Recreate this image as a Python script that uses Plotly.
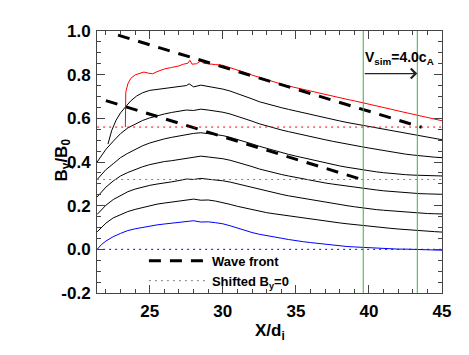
import plotly.graph_objects as go

# common x grid (X/d_i) for the curves that start at the left edge
x_grid = [21.4, 21.7, 22.0, 22.5, 23.0, 23.5, 24.0, 24.5, 25.0, 25.5, 26.0, 26.5,
          27.0, 27.5, 28.0, 28.5, 29.0, 29.5, 30.0, 30.5, 31.0, 31.5, 32.0, 32.5,
          33.0, 33.5, 34.0, 34.5, 35.0, 35.5, 36.0, 36.5, 37.0, 37.5, 38.0, 38.5,
          39.0, 39.5, 40.0, 40.5, 41.0, 41.5, 42.0, 42.5, 43.0, 43.5, 44.0, 44.5, 45.0]

# B_y/B_0 profiles, each shifted up by 0.08 from the one before
by_t0 = [0.000, 0.022, 0.038, 0.058, 0.073, 0.086, 0.094, 0.101, 0.108, 0.112, 0.116, 0.119,
         0.122, 0.127, 0.131, 0.125, 0.126, 0.122, 0.117, 0.108, 0.097, 0.088, 0.077, 0.069,
         0.062, 0.056, 0.051, 0.045, 0.039, 0.035, 0.031, 0.027, 0.022, 0.019, 0.016, 0.013,
         0.011, 0.009, 0.007, 0.005, 0.003, 0.002, 0.001, 0.001, 0.000, 0.000, -0.001, -0.002, -0.004]
by_t1 = [0.080, 0.102, 0.120, 0.144, 0.160, 0.173, 0.183, 0.192, 0.199, 0.207, 0.212, 0.216,
         0.222, 0.226, 0.230, 0.225, 0.226, 0.221, 0.215, 0.206, 0.197, 0.189, 0.181, 0.174,
         0.168, 0.163, 0.158, 0.154, 0.149, 0.144, 0.139, 0.135, 0.130, 0.126, 0.121, 0.117,
         0.113, 0.110, 0.106, 0.102, 0.099, 0.096, 0.093, 0.090, 0.088, 0.086, 0.083, 0.081, 0.079]
by_t2 = [0.160, 0.183, 0.202, 0.228, 0.248, 0.264, 0.276, 0.286, 0.293, 0.299, 0.303, 0.309,
         0.315, 0.322, 0.320, 0.325, 0.321, 0.319, 0.314, 0.308, 0.300, 0.292, 0.282, 0.273,
         0.266, 0.259, 0.252, 0.245, 0.239, 0.233, 0.227, 0.221, 0.215, 0.210, 0.205, 0.200,
         0.195, 0.190, 0.186, 0.182, 0.179, 0.176, 0.173, 0.170, 0.168, 0.166, 0.164, 0.163, 0.162]
by_t3 = [0.240, 0.263, 0.285, 0.313, 0.336, 0.352, 0.366, 0.378, 0.388, 0.396, 0.402, 0.406,
         0.412, 0.418, 0.424, 0.427, 0.423, 0.420, 0.415, 0.408, 0.399, 0.390, 0.379, 0.368,
         0.359, 0.351, 0.343, 0.336, 0.329, 0.322, 0.316, 0.310, 0.304, 0.299, 0.294, 0.289,
         0.285, 0.280, 0.276, 0.272, 0.268, 0.265, 0.262, 0.259, 0.257, 0.255, 0.254, 0.253, 0.252]
by_t4 = [0.320, 0.345, 0.365, 0.392, 0.420, 0.440, 0.458, 0.474, 0.487, 0.498, 0.506, 0.513,
         0.520, 0.527, 0.531, 0.534, 0.530, 0.527, 0.521, 0.513, 0.504, 0.494, 0.483, 0.472,
         0.462, 0.452, 0.443, 0.435, 0.427, 0.419, 0.411, 0.403, 0.396, 0.389, 0.382, 0.376,
         0.370, 0.364, 0.359, 0.355, 0.351, 0.347, 0.344, 0.342, 0.340, 0.339, 0.338, 0.337, 0.336]
by_t5 = [0.400, 0.430, 0.458, 0.495, 0.530, 0.556, 0.574, 0.590, 0.602, 0.612, 0.620, 0.627,
         0.633, 0.638, 0.636, 0.642, 0.638, 0.634, 0.628, 0.620, 0.610, 0.599, 0.587, 0.575,
         0.565, 0.556, 0.547, 0.539, 0.531, 0.523, 0.516, 0.509, 0.502, 0.495, 0.488, 0.482,
         0.476, 0.470, 0.464, 0.458, 0.452, 0.446, 0.441, 0.436, 0.432, 0.428, 0.425, 0.422, 0.420]

x_t6 = [22.14, 22.4, 22.7, 23.0, 23.4, 23.7, 24.1, 24.5, 25.0, 25.5, 26.0, 26.5, 27.0, 27.5,
        27.7, 28.0, 28.5, 29.0, 29.5, 30.0, 30.5, 31.0, 31.5, 32.0, 32.5, 33.0, 33.5, 34.0,
        34.5, 35.0, 35.5, 36.0, 36.5, 37.0, 37.5, 38.0, 38.5, 39.0, 39.5, 40.0, 40.5, 41.0,
        41.5, 42.0, 42.5, 43.0, 43.5, 44.0, 44.5, 45.0]
by_t6 = [0.482, 0.545, 0.592, 0.625, 0.657, 0.680, 0.702, 0.717, 0.728, 0.733, 0.737, 0.741,
         0.745, 0.750, 0.758, 0.744, 0.752, 0.746, 0.742, 0.734, 0.725, 0.714, 0.702, 0.689,
         0.676, 0.666, 0.657, 0.649, 0.641, 0.633, 0.625, 0.617, 0.609, 0.602, 0.595, 0.588,
         0.581, 0.575, 0.568, 0.562, 0.556, 0.550, 0.544, 0.538, 0.533, 0.528, 0.522, 0.515,
         0.508, 0.502]

x_t7 = [23.33, 23.36, 23.5, 23.7, 24.0, 24.3, 24.6, 24.9, 25.2, 25.5, 26.0, 26.5, 27.0, 27.3,
        27.6, 27.75, 27.9, 28.2, 28.5, 28.7, 29.0, 29.5, 30.0, 30.5, 31.0, 31.5, 32.0, 32.5,
        33.0, 33.5, 34.0, 34.5, 35.0, 35.5, 36.0, 36.5, 37.0, 37.5, 38.0, 38.5, 39.0, 39.5,
        40.0, 40.5, 41.0, 41.5, 42.0, 42.5, 43.0, 43.5, 44.0, 44.5, 45.0]
by_t7 = [0.560, 0.720, 0.758, 0.783, 0.799, 0.807, 0.812, 0.807, 0.804, 0.814, 0.826, 0.833,
         0.840, 0.848, 0.852, 0.866, 0.848, 0.850, 0.864, 0.852, 0.851, 0.846, 0.843, 0.833,
         0.822, 0.810, 0.798, 0.787, 0.776, 0.766, 0.757, 0.748, 0.740, 0.732, 0.724, 0.716,
         0.708, 0.701, 0.694, 0.687, 0.680, 0.673, 0.666, 0.658, 0.650, 0.642, 0.634, 0.627,
         0.620, 0.612, 0.604, 0.596, 0.589]

# wave front guides
front1_x = [22.83, 43.61]
front1_y = [0.981, 0.559]
front2_x = [22.0, 39.84]
front2_y = [0.681, 0.313]

# shifted zero levels
shift_levels = [0.0, 0.32, 0.56]
shift_colors = ["blue", "gray", "red"]

# simulation frame positions
v_lines = [39.61, 43.31]
arrow_y = 0.805

y_ticks = [-0.2, 0.0, 0.2, 0.4, 0.6, 0.8, 1.0]
y_ticktext = ["-0.2", "0.0", "0.2", "0.4", "0.6", "0.8", "1.0"]
x_ticks = [25, 30, 35, 40, 45]

bold = dict(family="Liberation Sans", color="black", weight="bold")

fig = go.Figure()

grid_curves = [(by_t0, "blue"), (by_t1, "black"), (by_t2, "black"),
               (by_t3, "black"), (by_t4, "black"), (by_t5, "black")]
for vals, col in grid_curves:
    fig.add_trace(go.Scatter(x=x_grid, y=vals, mode="lines",
                             line=dict(color=col, width=1), showlegend=False))
fig.add_trace(go.Scatter(x=x_t6, y=by_t6, mode="lines",
                         line=dict(color="black", width=1), showlegend=False))
fig.add_trace(go.Scatter(x=x_t7, y=by_t7, mode="lines",
                         line=dict(color="red", width=1), showlegend=False))

fig.add_trace(go.Scatter(x=front1_x, y=front1_y, mode="lines",
                         line=dict(color="black", width=3, dash="12px,9px"),
                         name="Wave front"))
fig.add_trace(go.Scatter(x=front2_x, y=front2_y, mode="lines",
                         line=dict(color="black", width=3, dash="12px,9px"),
                         showlegend=False))

for lvl, col in zip(shift_levels, shift_colors):
    fig.add_trace(go.Scatter(x=[x_grid[0], x_grid[-1]], y=[lvl, lvl], mode="lines",
                             line=dict(color=col, width=1, dash="2px,4px"),
                             name="Shifted B<sub>y</sub>=0",
                             showlegend=(col == "gray")))

for xv in v_lines:
    fig.add_vline(x=xv, line=dict(color="#3fae3f", width=1))

fig.add_annotation(x=v_lines[1], y=arrow_y, ax=v_lines[0], ay=arrow_y,
                   xref="x", yref="y", axref="x", ayref="y", text="",
                   showarrow=True, arrowhead=4, arrowsize=1.6, arrowwidth=1.2,
                   arrowcolor="#222")
fig.add_annotation(x=v_lines[0], y=0.875, xref="x", yref="y", xanchor="left",
                   text="V<sub>sim</sub>=4.0c<sub>A</sub>", showarrow=False,
                   font=dict(size=14, **bold))

# axis titles
fig.add_annotation(x=-0.136, y=0.506, xref="paper", yref="paper", textangle=-90,
                   text="B<sub>y</sub>/B<sub>0</sub>", showarrow=False,
                   font=dict(size=17, **bold))
fig.add_annotation(x=0.5, y=-0.147, xref="paper", yref="paper", yanchor="middle",
                   text="X/d<sub>i</sub>", showarrow=False,
                   font=dict(size=17, **bold))

axis_col = "#444"
fig.update_xaxes(range=[21.39, 45], tickvals=x_ticks, ticks="inside", ticklen=8,
                 tickcolor=axis_col, showline=True, linecolor=axis_col, mirror="allticks",
                 minor=dict(dtick=1, ticks="inside", ticklen=4, tickcolor=axis_col),
                 showgrid=False, zeroline=False, ticklabelstandoff=3,
                 tickfont=dict(size=17, **bold))
fig.update_yaxes(range=[-0.2, 1.0], tickvals=y_ticks, ticktext=y_ticktext, ticks="inside",
                 ticklen=8, tickcolor=axis_col, showline=True, linecolor=axis_col,
                 mirror="allticks",
                 minor=dict(dtick=0.05, ticks="inside", ticklen=4, tickcolor=axis_col),
                 showgrid=False, zeroline=False, ticklabelstandoff=2,
                 tickfont=dict(size=17, **bold))

# the page body adds an 8px offset, so margins are reduced to keep the plot box in place
fig.update_layout(
    width=469, height=355,
    margin=dict(l=89, r=35, t=23, b=70),
    plot_bgcolor="white", paper_bgcolor="white",
    legend=dict(x=0.136, y=0.18, xanchor="left", yanchor="top", itemwidth=58,
                bgcolor="rgba(0,0,0,0)", tracegroupgap=0,
                font=dict(size=13, **bold)),
)

fig.write_html("out.html")
